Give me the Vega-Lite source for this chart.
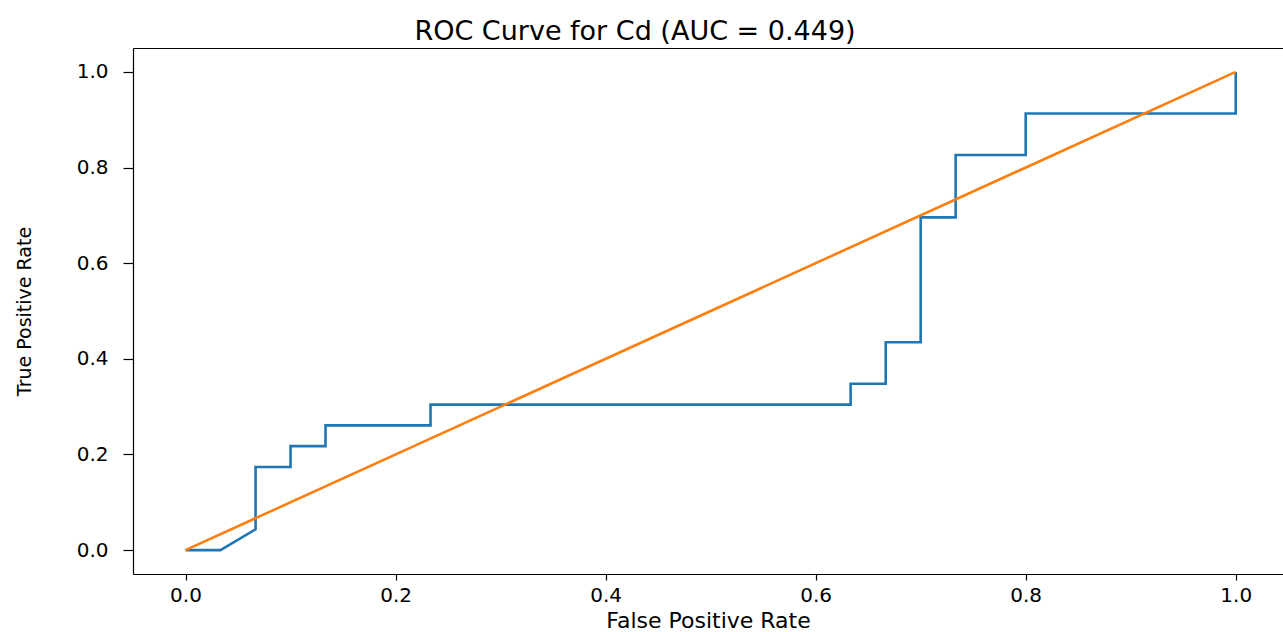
{
  "$schema": "https://vega.github.io/schema/vega-lite/v6.json",
  "width": 1150,
  "height": 526,
  "autosize": {"type": "none"},
  "padding": {"left": 133, "top": 48, "right": 0, "bottom": 58},
  "background": "white",
  "view": {"stroke": null},
  "title": {
    "text": "ROC Curve for Cd (AUC = 0.449)",
    "font": "DejaVu Sans",
    "fontSize": 27,
    "fontWeight": "normal",
    "color": "black",
    "anchor": "middle",
    "dx": -73,
    "offset": 10,
    "baseline": "alphabetic",
    "dy": 29
  },
  "config": {
    "axis": {
      "grid": false,
      "domainColor": "black",
      "tickColor": "black",
      "labelColor": "black",
      "titleColor": "black",
      "labelFont": "DejaVu Sans",
      "titleFont": "DejaVu Sans",
      "titleFontWeight": "normal",
      "domainWidth": 1.2,
      "tickWidth": 1.2
    }
  },
  "layer": [
    {
      "data": {
        "values": [
          {"fpr": 0, "tpr": 0},
          {"fpr": 0.0333, "tpr": 0},
          {"fpr": 0.0667, "tpr": 0.0435},
          {"fpr": 0.0667, "tpr": 0.1739},
          {"fpr": 0.1, "tpr": 0.1739},
          {"fpr": 0.1, "tpr": 0.2174},
          {"fpr": 0.1333, "tpr": 0.2174},
          {"fpr": 0.1333, "tpr": 0.2609},
          {"fpr": 0.2333, "tpr": 0.2609},
          {"fpr": 0.2333, "tpr": 0.3043},
          {"fpr": 0.6333, "tpr": 0.3043},
          {"fpr": 0.6333, "tpr": 0.3478},
          {"fpr": 0.6667, "tpr": 0.3478},
          {"fpr": 0.6667, "tpr": 0.4348},
          {"fpr": 0.7, "tpr": 0.4348},
          {"fpr": 0.7, "tpr": 0.6957},
          {"fpr": 0.7333, "tpr": 0.6957},
          {"fpr": 0.7333, "tpr": 0.8261},
          {"fpr": 0.8, "tpr": 0.8261},
          {"fpr": 0.8, "tpr": 0.913},
          {"fpr": 1, "tpr": 0.913},
          {"fpr": 1, "tpr": 1}
        ]
      },
      "mark": {"type": "line", "color": "#1f77b4", "strokeWidth": 2.6, "clip": true},
      "encoding": {
        "x": {
          "field": "fpr",
          "type": "quantitative",
          "scale": {"domain": [-0.05, 1.045], "nice": false, "zero": false},
          "axis": {
            "orient": "bottom",
            "values": [0, 0.2, 0.4, 0.6, 0.8, 1.0],
            "format": ".1f",
            "labelFontSize": 20,
            "labelFlush": false,
            "tickSize": 6,
            "labelPadding": 5,
            "title": "False Positive Rate",
            "titleFontSize": 22,
            "titlePadding": 5
          }
        },
        "y": {
          "field": "tpr",
          "type": "quantitative",
          "scale": {"domain": [-0.05, 1.05], "nice": false, "zero": false},
          "axis": {
            "values": [0, 0.2, 0.4, 0.6, 0.8, 1.0],
            "format": ".1f",
            "labelFontSize": 20,
            "labelFlush": false,
            "tickSize": 10,
            "labelPadding": 15,
            "title": "True Positive Rate",
            "titleFontSize": 19,
            "titlePadding": 42
          }
        },
        "order": {"value": null}
      }
    },
    {
      "data": {
        "values": [
          {"fpr": 0, "tpr": 0},
          {"fpr": 1, "tpr": 1}
        ]
      },
      "mark": {"type": "line", "color": "#ff7f0e", "strokeWidth": 2.6, "clip": true},
      "encoding": {
        "x": {
          "field": "fpr",
          "type": "quantitative",
          "scale": {"domain": [-0.05, 1.045], "nice": false, "zero": false},
          "axis": {"orient": "top", "labels": false, "ticks": false, "title": null}
        },
        "y": {
          "field": "tpr",
          "type": "quantitative",
          "scale": {"domain": [-0.05, 1.05], "nice": false, "zero": false}
        },
        "order": {"value": null}
      }
    }
  ],
  "resolve": {"axis": {"x": "independent"}}
}
